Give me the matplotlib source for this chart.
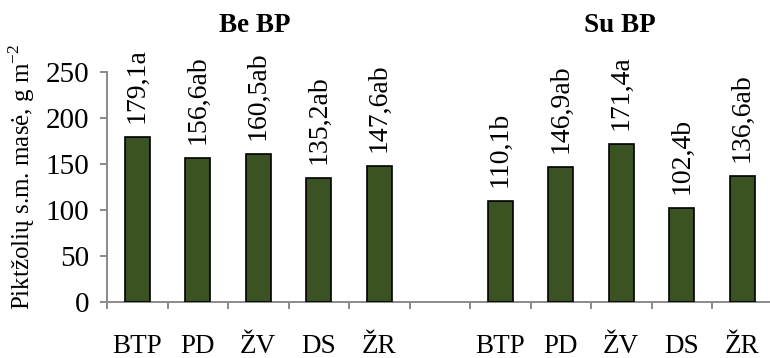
import numpy as np
import matplotlib
matplotlib.use("Agg")
from matplotlib import pyplot as plt

plt.rcParams['font.family'] = ['Liberation Serif', 'DejaVu Serif']
plt.rcParams['mathtext.fontset'] = 'custom'
plt.rcParams['mathtext.rm'] = 'Liberation Serif'

groups = ["Be BP", "Su BP"]
cats = ["BTP", "PD", "ŽV", "DS", "ŽR"]
be_bp = [179.1, 156.6, 160.5, 135.2, 147.6]
be_bp_letters = ["a", "ab", "ab", "ab", "ab"]
su_bp = [110.1, 146.9, 171.4, 102.4, 136.6]
su_bp_letters = ["b", "ab", "a", "b", "ab"]

BAR = '#3b5323'
AXIS = '#8a8a8a'
FS = 19.5

fig = plt.figure(figsize=(7.7, 3.58), dpi=100)
ax = fig.add_axes([107 / 770, 56 / 358, 665.5 / 770, 230 / 358])

# two groups of five bars with one empty slot between them
x_be = np.arange(5)
x_su = np.arange(6, 11)
x_all = np.concatenate([x_be, x_su])
vals = be_bp + su_bp
letters = be_bp_letters + su_bp_letters

ax.bar(x_all, vals, width=0.42, color=BAR, edgecolor='black', linewidth=1.2, zorder=3)

# value + significance letter, written upwards above each bar
for xi, v, lt in zip(x_all, vals, letters):
    txt = f"{v:.1f}".replace('.', ',') + lt
    ax.annotate(txt, (xi, v), xytext=(0, 10), textcoords='offset points',
                rotation=90, ha='center', va='bottom', fontsize=20)

ax.set_xlim(-0.5, 10.5)
ax.set_ylim(0, 250)
ax.set_yticks(np.arange(0, 251, 50))
ax.tick_params(axis='y', labelsize=21, length=5, width=1.4, color=AXIS, pad=8)

# tick marks sit between categories, names are written under the slots
ax.set_xticks(np.arange(-0.5, 11, 1))
ax.set_xticklabels([])
ax.tick_params(axis='x', length=5, width=1.4, color=AXIS)
for xi, name in zip(x_all, cats + cats):
    ax.text(xi, -51 / 230, name, transform=ax.get_xaxis_transform(),
            ha='center', va='baseline', fontsize=FS)

for side in ['top', 'right']:
    ax.spines[side].set_visible(False)
for side in ['left', 'bottom']:
    ax.spines[side].set_color(AXIS)
    ax.spines[side].set_linewidth(1.4)

for xc, g in zip([1.95, 7.97], groups):
    ax.text(xc, (302 - 31.7) / 230, g, transform=ax.get_xaxis_transform(),
            ha='center', va='baseline', fontsize=FS, fontweight='bold')

fig.text(22 / 770, 1 - 176.5 / 358, 'Piktžolių s.m. masė, g m$^{-2}$',
         rotation=90, ha='center', va='center', fontsize=18)

fig.savefig('out.png', dpi=100)
